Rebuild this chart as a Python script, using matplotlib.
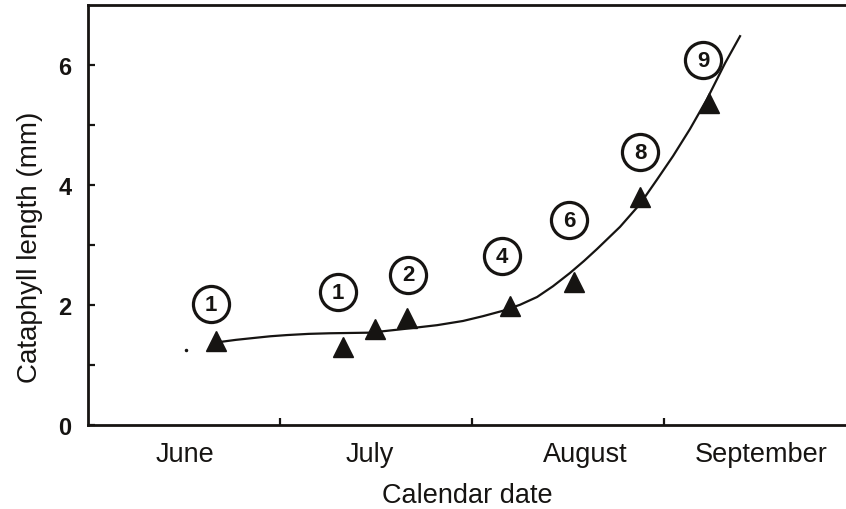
import matplotlib
matplotlib.use("Agg")
import matplotlib.pyplot as plt

plt.rcParams["font.family"] = ["Liberation Sans", "DejaVu Sans"]

# x in months, 0 = start of June
month_edges = [1, 2, 3]
month_names = ["June", "July", "August", "September"]
month_label_x = [0.505, 1.47, 2.59, 3.505]

# measured cataphyll lengths (mm)
obs_x = [0.667, 1.328, 1.495, 1.661, 2.198, 2.531, 2.875, 3.234]
obs_y = [1.39, 1.30, 1.60, 1.78, 1.98, 2.38, 3.80, 5.36]

# fitted curve
fit_x = [0.688, 0.77, 0.859, 0.95, 1.036, 1.150, 1.260, 1.469, 1.641,
         1.818, 1.953, 2.057, 2.161, 2.250, 2.339, 2.422, 2.510, 2.583,
         2.651, 2.771, 2.875, 2.964, 3.047, 3.135, 3.224, 3.318, 3.396]
fit_y = [1.38, 1.415, 1.445, 1.475, 1.495, 1.515, 1.525, 1.535, 1.595,
         1.66, 1.73, 1.81, 1.90, 2.00, 2.13, 2.31, 2.53, 2.73,
         2.93, 3.30, 3.68, 4.09, 4.48, 4.93, 5.43, 6.03, 6.48]

# circled numbers above the points
badge_x = [0.641, 1.302, 1.667, 2.155, 2.505, 2.875, 3.203]
badge_y = [2.01, 2.21, 2.50, 2.81, 3.41, 4.54, 6.08]
badge_text = ["1", "1", "2", "4", "6", "8", "9"]

stray_x = [0.510]
stray_y = [1.245]

ink = "#161412"

fig = plt.figure(figsize=(8.46, 5.10), dpi=100)
ax = fig.add_axes([88 / 846, 84.3 / 510, 758 / 846, 419.7 / 510])

ax.plot(fit_x, fit_y, color=ink, lw=1.6, zorder=3)
ax.plot(obs_x, obs_y, ls="none", marker="^", ms=14, color=ink, zorder=2)
ax.plot(stray_x, stray_y, ls="none", marker="o", ms=1.5, color=ink)

ax.plot(badge_x, badge_y, ls="none", marker="o", ms=26, mfc="white",
        mec=ink, mew=2.3, zorder=4)
for x, y, t in zip(badge_x, badge_y, badge_text):
    ax.text(x, y, t, ha="center", va="center", fontsize=16,
            fontweight="bold", color=ink, zorder=5)

ax.set_xlim(0, 758 / 192)
ax.set_ylim(0, 7)

for side in ["left", "bottom", "top"]:
    ax.spines[side].set_linewidth(2.0)
    ax.spines[side].set_color(ink)
ax.spines["right"].set_visible(False)

ax.set_yticks([0, 2, 4, 6])
ax.set_yticks([1, 3, 5], minor=True)
ax.set_yticklabels(["0", "2", "4", "6"], fontsize=17, fontweight="bold")
ax.tick_params(axis="y", which="both", direction="in", length=5, width=1.6,
               color=ink, pad=12, labelcolor=ink)

ax.set_xticks(month_edges)
ax.set_xticklabels([])
ax.set_xticks(month_label_x, minor=True)
ax.set_xticklabels(month_names, minor=True, fontsize=19.5)
ax.tick_params(axis="x", which="major", direction="in", length=5, width=1.6,
               color=ink)
ax.tick_params(axis="x", which="minor", length=0, pad=12, labelcolor=ink)

ax.set_xlabel("Calendar date", fontsize=19.5, color=ink)
ax.xaxis.set_label_coords(0.5, -0.137)
ax.set_ylabel("Cataphyll length (mm)", fontsize=20, color=ink)
ax.yaxis.set_label_coords(-0.06, 0.426)

fig.savefig("out.png", dpi=100)
